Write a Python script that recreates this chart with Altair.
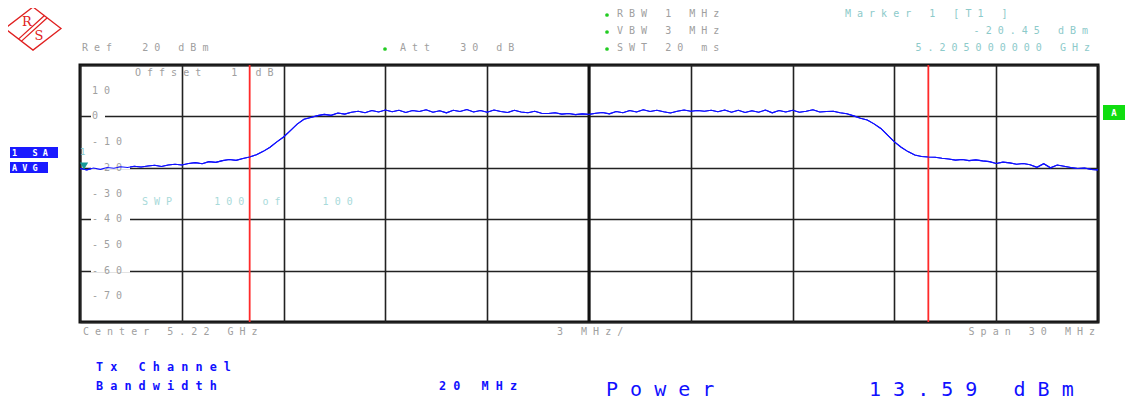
import altair as alt
import pandas as pd

# ---------------- data ----------------
f_start = 5205.0      # MHz
f_step = 0.2          # MHz between trace points
trace_db = [
    -20.3, -20.8, -20.1, -20.6, -19.9, -20.2, -19.6, -19.9, -19.4, -19.7,
    -19.3, -19.0, -19.5, -18.9, -18.6, -18.9, -18.3, -18.0, -18.4, -17.6,
    -17.9, -17.2, -16.8, -17.1, -16.4, -15.8,
    -14.9, -13.6, -12.0, -9.9, -8.0, -5.5, -3.0, -1.1, -0.4, 0.3, 0.8, 0.4, 1.3, 0.9, 1.6,
    2.0, 1.4, 2.3, 1.7, 2.5, 1.8, 2.4, 1.5, 2.3, 1.9,
    2.6, 1.6, 2.2, 1.4, 2.4, 1.9, 2.7, 1.7, 2.3, 1.6,
    2.5, 1.9, 1.5, 2.4, 1.7, 1.4, 2.0, 1.2, 1.1, 1.4,
    0.9, 1.1, 0.7, 1.0, 0.8, 1.2, 1.5, 1.0, 1.9, 1.4,
    2.3, 1.7, 2.6, 1.9, 2.4, 1.8, 1.3, 2.0, 2.5, 2.0,
    2.3, 2.0, 2.4, 1.8, 2.5, 1.6, 2.4, 1.5, 2.2, 1.6,
    2.5, 1.4, 2.3, 1.7, 2.4, 1.6, 2.0, 2.6, 1.7, 1.9, 2.0,
    1.4, 1.0, 0.2, -0.7, -1.4, -2.9, -4.7, -7.3, -9.9, -12.0, -13.7, -15.0, -15.6, -15.8,
    -15.9, -16.3, -16.6, -17.0, -16.8, -17.2, -16.9, -17.3, -17.6, -18.3,
    -17.8, -18.1, -18.6, -18.3, -18.8, -19.8, -18.4, -20.0, -18.9, -19.4,
    -19.9, -20.3, -20.1, -20.6, -20.8,
]
freq_mhz = [round(f_start + f_step * i, 1) for i in range(len(trace_db))]

marker_freqs = [5210, 5230]           # channel power limit lines
center_freq = [5220]
x_ticks = [5205, 5208, 5211, 5214, 5217, 5220, 5223, 5226, 5229, 5232, 5235]
y_ticks = [-80, -70, -60, -50, -40, -30, -20, -10, 0, 10, 20]
y_label_vals = [10, 0, -10, -20, -30, -40, -50, -60, -70]
y_label_text = ["10", "0", "-10", "-20", "-30", "-40", "-50", "-60", "-70"]

# ---------------- helpers ----------------
NB = "\u00a0"


def sp(s):
    return NB.join(s.replace(" ", NB))


W, H = 1018, 257
GREY = "#a0a0a0"
TEAL = "#8ccaca"
BLUE = "#1010ff"
MONO = "DejaVu Sans Mono"

trace = pd.DataFrame({"f": freq_mhz, "db": trace_db})
one = alt.Chart(pd.DataFrame({"k": [0]}))

xs = alt.Scale(domain=[5205, 5235], nice=False, zero=False)
ys = alt.Scale(domain=[-80, 20], nice=False, zero=False)
xax = alt.Axis(values=x_ticks, grid=True, labels=False, ticks=False, domain=False,
               title=None, gridColor="#222", gridWidth=1.6, gridOpacity=1)
yax = alt.Axis(values=y_ticks, grid=True, labels=False, ticks=False, domain=False,
               title=None, gridColor="#222", gridWidth=1.6, gridOpacity=1)

line = alt.Chart(trace).mark_line(color=BLUE, strokeWidth=1.1, interpolate="linear").encode(
    x=alt.X("f:Q", scale=xs, axis=xax),
    y=alt.Y("db:Q", scale=ys, axis=yax),
)

ylab = pd.DataFrame({"db": y_label_vals, "lab": [sp(t) for t in y_label_text],
                     "n": [len(t) for t in y_label_text]})
ylab["lo"] = ylab["db"] - 0.7
ylab["hi"] = ylab["db"] + 0.7


def white_gap(n, x2):
    return alt.Chart(ylab).transform_filter(f"datum.n == {n}").mark_rect(color="white").encode(
        x=alt.value(11), x2=alt.value(x2),
        y=alt.Y("lo:Q", scale=ys), y2="hi:Q")


gaps = [white_gap(1, 25), white_gap(2, 37), white_gap(3, 50)]
ylabels = alt.Chart(ylab).mark_text(align="left", baseline="middle", font=MONO,
                                    fontSize=10, color=GREY).encode(
    x=alt.value(12), y=alt.Y("db:Q", scale=ys), text="lab:N")

center_rule = alt.Chart(pd.DataFrame({"f": center_freq})).mark_rule(
    color="#111", strokeWidth=3).encode(x=alt.X("f:Q", scale=xs))
red_rules = alt.Chart(pd.DataFrame({"f": marker_freqs})).mark_rule(
    color="#ff2a2a", strokeWidth=1.8).encode(x=alt.X("f:Q", scale=xs))


def txt(s, x, y, color=GREY, size=10, bold=False, align="left", spaced=True):
    return one.mark_text(text=sp(s) if spaced else s, font=MONO, fontSize=size,
                         fontWeight="bold" if bold else "normal", color=color,
                         align=align, baseline="middle").encode(
        x=alt.value(x), y=alt.value(y))


def box(x, x2, y, y2, color):
    return one.mark_rect(color=color).encode(
        x=alt.value(x), x2=alt.value(x2), y=alt.value(y), y2=alt.value(y2))


def dot(x, y, color="#22cc22"):
    return one.mark_point(filled=True, color=color, size=14, opacity=1).encode(
        x=alt.value(x), y=alt.value(y))


logo_path = ("M -1 0 L 0 -0.77 L 1 0 L 0 0.77 Z "
             "M -0.52 0.38 L 0.42 -0.47 M -0.42 0.46 L 0.52 -0.39")
logo = one.mark_point(shape=logo_path, size=3136, filled=False, color="#e02020",
                      strokeWidth=1.3, opacity=1).encode(x=alt.value(-47), y=alt.value(-36.5))
logo_r = one.mark_text(text="R", font="DejaVu Serif", fontSize=13, color="#e02020").encode(
    x=alt.value(-53), y=alt.value(-43))
logo_s = one.mark_text(text="S", font="DejaVu Serif", fontSize=13, color="#e02020").encode(
    x=alt.value(-41), y=alt.value(-29))

marker_tri = one.mark_point(shape="triangle-down", filled=True, color="#159a9a",
                            size=70, opacity=1).encode(x=alt.value(4), y=alt.value(101))

annotations = [
    logo, logo_r, logo_s,
    txt("Ref  20 dBm", 2, -17),
    dot(305, -16), txt("Att  30 dB", 320, -17),
    dot(527, -50), txt("RBW 1 MHz", 537, -51),
    dot(527, -33), txt("VBW 3 MHz", 537, -34),
    dot(527, -16), txt("SWT 20 ms", 537, -17),
    txt("Marker 1 [T1 ]", 765, -51, color=TEAL),
    txt("-20.45 dBm", 1008, -34, color=TEAL, align="right"),
    txt("5.205000000 GHz", 1010, -17, color=TEAL, align="right"),
    txt("Offset  1 dB", 55, 8),
    txt("SWP   100 of   100", 62, 137, color="#a8dada"),
    txt("Center 5.22 GHz", 3, 267),
    txt("3 MHz/", 477, 267),
    txt("Span 30 MHz", 1015, 267, align="right"),
    box(-70, -22, 82, 93, "#1a1aff"), txt("1 SA", -68, 88, color="white", size=8.5, bold=True),
    box(-70, -32, 97, 108, "#1a1aff"), txt("AVG", -68, 103, color="white", size=8.5, bold=True),
    box(1023, 1045, 40, 55, "#10dd10"), txt("A", 1034, 48, color="white", size=9, bold=True,
                                            align="center", spaced=False),
    txt("1", 0, 87, color=TEAL, size=9, spaced=False),
    txt("Tx Channel", 16, 302, color=BLUE, size=11.8, bold=True),
    txt("Bandwidth", 16, 321, color=BLUE, size=11.8, bold=True),
    txt("20 MHz", 359, 321, color=BLUE, size=11.8, bold=True),
    txt("Power", 526, 325, color=BLUE, size=20),
    txt("13.59 dBm", 789, 325, color=BLUE, size=20),
]

chart = alt.layer(
    line, *gaps, ylabels, center_rule, red_rules, line, marker_tri, *annotations
).properties(
    width=W, height=H,
    autosize=alt.AutoSizeParams(type="none"),
    padding={"left": 72, "top": 57, "right": 27, "bottom": 78},
    background="white",
).configure_view(stroke="#111", strokeWidth=3)

chart.save("out.html", embed_options={"renderer": "svg", "actions": False})
